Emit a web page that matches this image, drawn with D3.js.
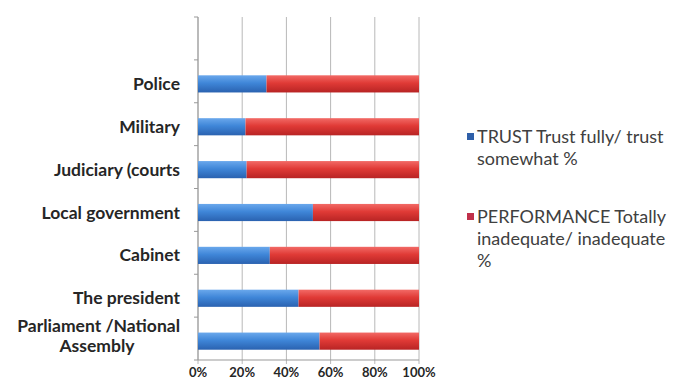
<!DOCTYPE html>
<html>
<head>
<meta charset="utf-8">
<script src="https://cdn.jsdelivr.net/npm/d3@7"></script>
<style>
  body { margin: 0; background: #fff; }
  svg text { font-family: Lato, "Open Sans", sans-serif; }
</style>
</head>
<body>
<svg id="chart"></svg>
<script>
// Chart size
const width = 675;
const height = 385;

// Data (top to bottom)
const categories = ["Police", "Military", "Judiciary (courts", "Local government", "Cabinet", "The president", "Parliament /National Assembly"];
const trust = [31, 21.5, 22, 52, 32.5, 45.5, 55];
const performance = [69, 78.5, 78, 48, 67.5, 54.5, 45];
const xTicks = [0, 20, 40, 60, 80, 100];
const seriesNames = ["TRUST Trust fully/ trust somewhat %", "PERFORMANCE Totally inadequate/ inadequate %"];

const svg = d3.select("#chart").attr("width", width).attr("height", height);

// Excel left an empty row at the top, so the band scale has one blank slot
const yScale = d3.scaleBand()
  .domain(["_blank"].concat(categories))
  .range([17, 360])
  .paddingInner(0.6)
  .paddingOuter(0.3)
  .align(0.6);

const xScale = d3.scaleLinear().domain([0, 100]).range([198, 419]);

// Glossy gradients for the bars
const defs = svg.append("defs");
function gradient(id, top, mid, bottom) {
  const g = defs.append("linearGradient").attr("id", id)
    .attr("x1", 0).attr("y1", 0).attr("x2", 0).attr("y2", 1);
  g.append("stop").attr("offset", "0%").attr("stop-color", top);
  g.append("stop").attr("offset", "45%").attr("stop-color", mid);
  g.append("stop").attr("offset", "100%").attr("stop-color", bottom);
}
gradient("blueGrad", "#6aa8ec", "#3f86d8", "#2a62b0");
gradient("redGrad", "#f26a66", "#e03a36", "#b82424");

// Gridlines
svg.append("g")
  .selectAll("line")
  .data(xTicks)
  .enter()
  .append("line")
  .attr("x1", (d) => xScale(d))
  .attr("x2", (d) => xScale(d))
  .attr("y1", 17)
  .attr("y2", 364)
  .attr("stroke", "#b8b8b8")
  .attr("stroke-width", 1);

// Category axis ticks on the left (band boundaries)
const bandEdges = d3.range(0, categories.length + 2).map((i) => 17 + i * (343 / 8));
svg.append("g")
  .selectAll("line")
  .data(bandEdges)
  .enter()
  .append("line")
  .attr("x1", 194)
  .attr("x2", 198)
  .attr("y1", (d) => d)
  .attr("y2", (d) => d)
  .attr("stroke", "#999");

// Axis lines
svg.append("line").attr("x1", 198).attr("x2", 198).attr("y1", 17).attr("y2", 360).attr("stroke", "#999");
svg.append("line").attr("x1", 198).attr("x2", 419).attr("y1", 360).attr("y2", 360).attr("stroke", "#999");

// Stacked bars
const rows = categories.map((c, i) => ({ cat: c, trust: trust[i], perf: performance[i] }));
const barG = svg.append("g");

barG.selectAll("rect.trust")
  .data(rows)
  .enter()
  .append("rect")
  .attr("class", "trust")
  .attr("x", xScale(0))
  .attr("y", (d) => yScale(d.cat))
  .attr("width", (d) => xScale(d.trust) - xScale(0))
  .attr("height", yScale.bandwidth())
  .attr("fill", "url(#blueGrad)");

barG.selectAll("rect.perf")
  .data(rows)
  .enter()
  .append("rect")
  .attr("class", "perf")
  .attr("x", (d) => xScale(d.trust))
  .attr("y", (d) => yScale(d.cat))
  .attr("width", (d) => xScale(d.trust + d.perf) - xScale(d.trust))
  .attr("height", yScale.bandwidth())
  .attr("fill", "url(#redGrad)");

// Category labels
const labelSize = 17.5;
const labelG = svg.append("g");
rows.forEach((d) => {
  const cy = yScale(d.cat) + yScale.bandwidth() / 2;
  if (d.cat === "Parliament /National Assembly") {
    labelG.append("text").attr("x", 180).attr("y", cy - 9)
      .attr("text-anchor", "end").attr("font-size", labelSize).attr("font-weight", "bold")
      .attr("fill", "#262626").text("Parliament /National");
    labelG.append("text").attr("x", 97).attr("y", cy + 11)
      .attr("text-anchor", "middle").attr("font-size", labelSize).attr("font-weight", "bold")
      .attr("fill", "#262626").text("Assembly");
  } else {
    labelG.append("text").attr("x", 180).attr("y", cy + 6)
      .attr("text-anchor", "end").attr("font-size", labelSize).attr("font-weight", "bold")
      .attr("fill", "#262626").text(d.cat);
  }
});

// X tick labels
svg.append("g")
  .selectAll("text")
  .data(xTicks)
  .enter()
  .append("text")
  .attr("x", (d) => xScale(d))
  .attr("y", 377)
  .attr("text-anchor", "middle")
  .attr("font-size", 13)
  .attr("font-weight", "bold")
  .attr("fill", "#262626")
  .text((d) => d + "%");

// Legend
const legendLines = [
  ["TRUST Trust fully/ trust", "somewhat %"],
  ["PERFORMANCE Totally", "inadequate/ inadequate", "%"]
];
const legendColors = ["#2f5fa8", "#c0304a"];
const legendBaseline = [143, 223];

legendLines.forEach((lines, i) => {
  svg.append("rect")
    .attr("x", 467).attr("y", legendBaseline[i] - 10)
    .attr("width", 7).attr("height", 7)
    .attr("fill", legendColors[i]);
  lines.forEach((t, j) => {
    svg.append("text")
      .attr("x", 477)
      .attr("y", legendBaseline[i] + j * 22)
      .attr("font-size", 18)
      .attr("fill", "#404040")
      .text(t);
  });
});
</script>
</body>
</html>
